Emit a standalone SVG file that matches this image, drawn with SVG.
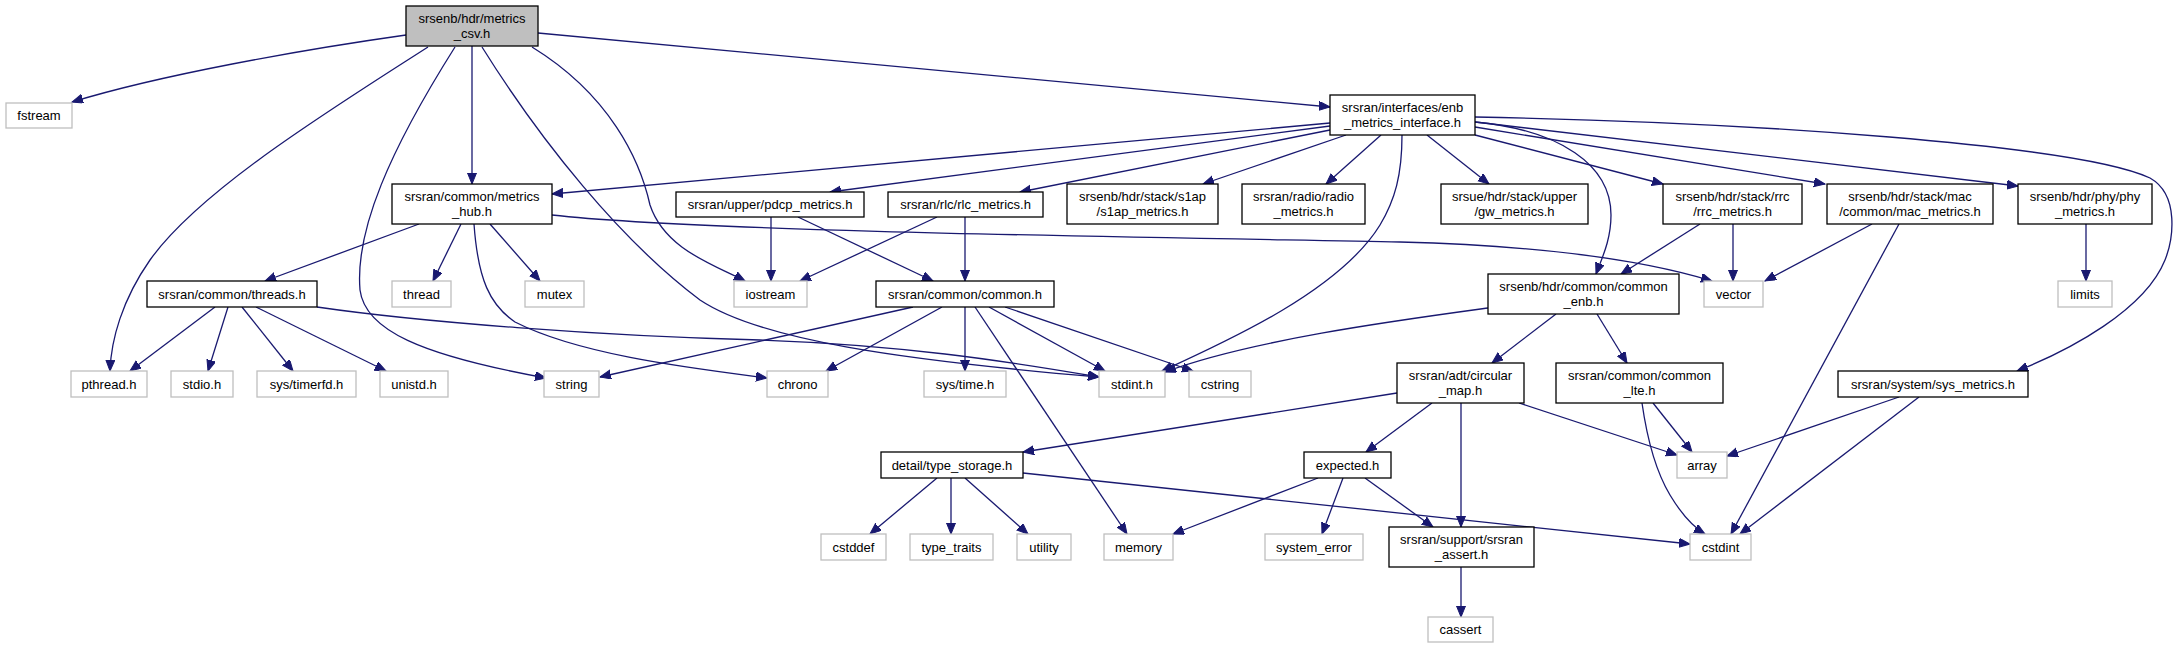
<svg xmlns="http://www.w3.org/2000/svg" width="2179" height="648" viewBox="0 0 2179 648">
<style>
text{font-family:"Liberation Sans",Arial,sans-serif;font-size:13px;fill:#000;text-anchor:middle}
.n rect{fill:#fff;stroke:#000;stroke-width:1.3}
.m rect{fill:#bfbfbf;stroke:#000;stroke-width:1.3}
.s rect{fill:#fff;stroke:#bfbfbf;stroke-width:1.3}
#edges path{fill:none;stroke:#191970;stroke-width:1.3;marker-end:url(#ah)}
</style>
<defs>
<marker id="ah" markerWidth="13" markerHeight="11" refX="11" refY="4.5" orient="auto" markerUnits="userSpaceOnUse">
<path d="M0,0 L11,4.5 L0,9 z" fill="#191970" stroke="#191970" stroke-width="1"/>
</marker>
</defs>
<rect width="2179" height="648" fill="#fff"/>
<g id="edges">
<path d="M406,35 C300,50 160,75 72,102"/>
<path d="M538,33 L1330,107"/>
<path d="M472,46 L472,184"/>
<path d="M428,47 C330,110 200,190 150,260 C122,300 111,340 110,371"/>
<path d="M455,47 C390,150 355,230 360,290 C365,330 420,355 546,378"/>
<path d="M482,47 C540,140 620,240 700,300 C760,340 900,360 1099,377"/>
<path d="M532,47 C610,95 640,160 650,205 C665,250 715,265 745,281"/>
<path d="M1330,123 L552,194"/>
<path d="M1330,126 L830,192"/>
<path d="M1330,130 L1020,192"/>
<path d="M1346,135 L1203,184"/>
<path d="M1381,135 L1326,184"/>
<path d="M1402,135 C1402,175 1395,200 1380,225 C1340,290 1230,340 1162,371"/>
<path d="M1427,135 L1489,184"/>
<path d="M1475,122 C1560,130 1611,165 1611,215 C1611,240 1602,258 1596,274"/>
<path d="M1475,135 L1663,184"/>
<path d="M1475,127 L1825,184"/>
<path d="M1475,122 L2018,186"/>
<path d="M1475,117 C1750,122 2080,145 2150,178 C2180,195 2173,240 2165,260 C2145,310 2070,350 2017,371"/>
<path d="M419,224 L265,281"/>
<path d="M461,224 L433,281"/>
<path d="M490,224 L540,281"/>
<path d="M474,224 C478,280 490,305 515,322 C580,355 690,368 767,378"/>
<path d="M552,215 C700,232 1200,238 1400,242 C1550,246 1650,262 1712,281"/>
<path d="M215,307 L130,371"/>
<path d="M228,307 L208,371"/>
<path d="M242,307 L293,371"/>
<path d="M256,307 L386,371"/>
<path d="M317,307 C420,322 600,336 760,340 C900,345 1000,360 1099,377"/>
<path d="M771,217 L771,281"/>
<path d="M798,217 L933,281"/>
<path d="M937,217 L800,281"/>
<path d="M965,217 L965,281"/>
<path d="M913,307 L600,377"/>
<path d="M942,307 L826,371"/>
<path d="M965,307 L965,371"/>
<path d="M975,307 L1127,534"/>
<path d="M989,307 L1105,371"/>
<path d="M1005,307 L1193,371"/>
<path d="M1700,224 L1621,274"/>
<path d="M1733,224 L1733,281"/>
<path d="M1872,224 L1765,281"/>
<path d="M1899,224 L1731,534"/>
<path d="M2086,224 L2086,281"/>
<path d="M1488,308 C1400,320 1250,340 1165,372"/>
<path d="M1556,314 L1492,363"/>
<path d="M1597,314 L1627,363"/>
<path d="M1397,393 L1023,452"/>
<path d="M1432,403 L1366,452"/>
<path d="M1461,403 L1461,527"/>
<path d="M1519,403 L1677,455"/>
<path d="M1653,403 L1692,452"/>
<path d="M1642,403 C1648,445 1658,475 1670,495 C1682,515 1695,528 1705,534"/>
<path d="M1899,397 L1727,456"/>
<path d="M1919,397 L1740,534"/>
<path d="M937,478 L870,534"/>
<path d="M951,478 L951,534"/>
<path d="M965,478 L1028,534"/>
<path d="M1023,473 L1690,544"/>
<path d="M1318,478 L1173,534"/>
<path d="M1343,478 L1322,534"/>
<path d="M1365,478 L1433,527"/>
<path d="M1461,567 L1461,617"/>
</g>
<g id="n_main" class="m"><rect x="406" y="6" width="132" height="40"/><text x="472" y="22.5">srsenb/hdr/metrics</text><text x="472" y="37.5">_csv.h</text></g>
<g id="n_fstream" class="s"><rect x="6" y="103" width="66" height="25"/><text x="39" y="120">fstream</text></g>
<g id="n_enb" class="n"><rect x="1330" y="95" width="145" height="40"/><text x="1402.5" y="111.5">srsran/interfaces/enb</text><text x="1402.5" y="126.5">_metrics_interface.h</text></g>
<g id="n_hub" class="n"><rect x="392" y="184" width="160" height="40"/><text x="472" y="200.5">srsran/common/metrics</text><text x="472" y="215.5">_hub.h</text></g>
<g id="n_pdcp" class="n"><rect x="676" y="192" width="188" height="25"/><text x="770" y="209">srsran/upper/pdcp_metrics.h</text></g>
<g id="n_rlc" class="n"><rect x="888" y="192" width="155" height="25"/><text x="965.5" y="209">srsran/rlc/rlc_metrics.h</text></g>
<g id="n_s1ap" class="n"><rect x="1067" y="184" width="151" height="40"/><text x="1142.5" y="200.5">srsenb/hdr/stack/s1ap</text><text x="1142.5" y="215.5">/s1ap_metrics.h</text></g>
<g id="n_radio" class="n"><rect x="1242" y="184" width="123" height="40"/><text x="1303.5" y="200.5">srsran/radio/radio</text><text x="1303.5" y="215.5">_metrics.h</text></g>
<g id="n_gw" class="n"><rect x="1441" y="184" width="147" height="40"/><text x="1514.5" y="200.5">srsue/hdr/stack/upper</text><text x="1514.5" y="215.5">/gw_metrics.h</text></g>
<g id="n_rrc" class="n"><rect x="1663" y="184" width="139" height="40"/><text x="1732.5" y="200.5">srsenb/hdr/stack/rrc</text><text x="1732.5" y="215.5">/rrc_metrics.h</text></g>
<g id="n_mac" class="n"><rect x="1827" y="184" width="166" height="40"/><text x="1910" y="200.5">srsenb/hdr/stack/mac</text><text x="1910" y="215.5">/common/mac_metrics.h</text></g>
<g id="n_phy" class="n"><rect x="2018" y="184" width="134" height="40"/><text x="2085" y="200.5">srsenb/hdr/phy/phy</text><text x="2085" y="215.5">_metrics.h</text></g>
<g id="n_threads" class="n"><rect x="147" y="281" width="170" height="26"/><text x="232" y="298.5">srsran/common/threads.h</text></g>
<g id="n_thread" class="s"><rect x="392" y="281" width="59" height="26"/><text x="421.5" y="298.5">thread</text></g>
<g id="n_mutex" class="s"><rect x="525" y="281" width="59" height="26"/><text x="554.5" y="298.5">mutex</text></g>
<g id="n_iostream" class="s"><rect x="734" y="281" width="73" height="26"/><text x="770.5" y="298.5">iostream</text></g>
<g id="n_common" class="n"><rect x="876" y="281" width="178" height="26"/><text x="965" y="298.5">srsran/common/common.h</text></g>
<g id="n_common_enb" class="n"><rect x="1488" y="274" width="191" height="40"/><text x="1583.5" y="290.5">srsenb/hdr/common/common</text><text x="1583.5" y="305.5">_enb.h</text></g>
<g id="n_vector" class="s"><rect x="1704" y="281" width="59" height="26"/><text x="1733.5" y="298.5">vector</text></g>
<g id="n_limits" class="s"><rect x="2058" y="281" width="54" height="26"/><text x="2085" y="298.5">limits</text></g>
<g id="n_pthread" class="s"><rect x="71" y="371" width="76" height="26"/><text x="109" y="388.5">pthread.h</text></g>
<g id="n_stdio" class="s"><rect x="171" y="371" width="62" height="26"/><text x="202" y="388.5">stdio.h</text></g>
<g id="n_timerfd" class="s"><rect x="257" y="371" width="99" height="26"/><text x="306.5" y="388.5">sys/timerfd.h</text></g>
<g id="n_unistd" class="s"><rect x="380" y="371" width="68" height="26"/><text x="414" y="388.5">unistd.h</text></g>
<g id="n_string" class="s"><rect x="544" y="371" width="55" height="26"/><text x="571.5" y="388.5">string</text></g>
<g id="n_chrono" class="s"><rect x="767" y="371" width="61" height="26"/><text x="797.5" y="388.5">chrono</text></g>
<g id="n_systime" class="s"><rect x="924" y="371" width="82" height="26"/><text x="965" y="388.5">sys/time.h</text></g>
<g id="n_stdint" class="s"><rect x="1099" y="371" width="66" height="26"/><text x="1132" y="388.5">stdint.h</text></g>
<g id="n_cstring" class="s"><rect x="1189" y="371" width="62" height="26"/><text x="1220" y="388.5">cstring</text></g>
<g id="n_circmap" class="n"><rect x="1397" y="363" width="127" height="40"/><text x="1460.5" y="379.5">srsran/adt/circular</text><text x="1460.5" y="394.5">_map.h</text></g>
<g id="n_common_lte" class="n"><rect x="1556" y="363" width="167" height="40"/><text x="1639.5" y="379.5">srsran/common/common</text><text x="1639.5" y="394.5">_lte.h</text></g>
<g id="n_sysmetrics" class="n"><rect x="1838" y="371" width="190" height="26"/><text x="1933" y="388.5">srsran/system/sys_metrics.h</text></g>
<g id="n_type_storage" class="n"><rect x="881" y="452" width="142" height="26"/><text x="952" y="469.5">detail/type_storage.h</text></g>
<g id="n_expected" class="n"><rect x="1304" y="452" width="87" height="26"/><text x="1347.5" y="469.5">expected.h</text></g>
<g id="n_array" class="s"><rect x="1677" y="452" width="50" height="26"/><text x="1702" y="469.5">array</text></g>
<g id="n_cstddef" class="s"><rect x="821" y="534" width="65" height="26"/><text x="853.5" y="551.5">cstddef</text></g>
<g id="n_type_traits" class="s"><rect x="910" y="534" width="83" height="26"/><text x="951.5" y="551.5">type_traits</text></g>
<g id="n_utility" class="s"><rect x="1017" y="534" width="54" height="26"/><text x="1044" y="551.5">utility</text></g>
<g id="n_memory" class="s"><rect x="1104" y="534" width="69" height="26"/><text x="1138.5" y="551.5">memory</text></g>
<g id="n_system_error" class="s"><rect x="1265" y="534" width="98" height="26"/><text x="1314" y="551.5">system_error</text></g>
<g id="n_assert" class="n"><rect x="1389" y="527" width="145" height="40"/><text x="1461.5" y="543.5">srsran/support/srsran</text><text x="1461.5" y="558.5">_assert.h</text></g>
<g id="n_cstdint" class="s"><rect x="1690" y="534" width="61" height="26"/><text x="1720.5" y="551.5">cstdint</text></g>
<g id="n_cassert" class="s"><rect x="1428" y="617" width="65" height="25"/><text x="1460.5" y="634">cassert</text></g>
</svg>
